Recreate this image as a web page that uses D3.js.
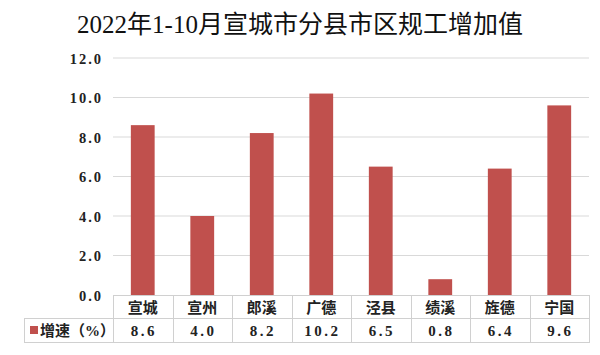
<!DOCTYPE html>
<html><head><meta charset="utf-8">
<script src="https://cdn.jsdelivr.net/npm/d3@7"></script>
<style>body{margin:0;background:#fff}svg{display:block}</style>
</head><body>
<svg id="c" width="600" height="355"></svg>
<script>
const title = "2022年1-10月宣城市分县市区规工增加值";
const categories = ["宣城","宣州","郎溪","广德","泾县","绩溪","旌德","宁国"];
const values = [8.6, 4.0, 8.2, 10.2, 6.5, 0.8, 6.4, 9.6];
const yTicks = [0, 2, 4, 6, 8, 10, 12];
const seriesName = "增速（%）";

(function () {
const svg = d3.select("#c");
const pL = 113, pR = 589, pT = 58, pB = 295;
const x = d3.scaleBand().domain(categories).range([pL, pR]).paddingInner(0.6).paddingOuter(0.3);
const xb = d3.scaleBand().domain(categories).range([pL, pR]);
const y = d3.scaleLinear().domain([0, 12]).range([pB, pT]);
const serif = "'Liberation Serif','DejaVu Serif','Noto Sans CJK SC',serif";
const cjk = "'Liberation Serif','Noto Sans CJK SC',sans-serif";

svg.append("text").attr("x", 300).attr("y", 33).attr("text-anchor", "middle")
  .attr("font-family", cjk).attr("font-size", 25).attr("fill", "#111").text(title);

svg.append("g").selectAll("line").data(yTicks.filter(d => d > 0)).join("line")
  .attr("x1", pL).attr("x2", pR).attr("y1", d => y(d)).attr("y2", d => y(d))
  .attr("stroke", "#d9d9d9").attr("stroke-width", 1);

const yAxis = d3.axisLeft(y).tickValues(yTicks).tickFormat(d3.format(".1f")).tickSize(0).tickPadding(10);
const ya = svg.append("g").attr("transform", `translate(${pL},0)`).call(yAxis);
ya.select(".domain").remove();
ya.selectAll("text").attr("font-family", serif).attr("font-size", 14.5).attr("font-weight", "bold")
  .attr("fill", "#222").attr("letter-spacing", 2).attr("dy", "0.35em");

svg.append("g").selectAll("rect").data(values).join("rect")
  .attr("x", (d, i) => x(categories[i])).attr("width", x.bandwidth())
  .attr("y", d => y(d)).attr("height", d => y(0) - y(d)).attr("fill", "#c0504d");

const rowMid = 318, tBottom = 342, tLeft = 24;
const lc = "#d0d0d0";
const tg = svg.append("g").attr("stroke", lc).attr("stroke-width", 1);
tg.append("line").attr("x1", pL).attr("x2", pR).attr("y1", pB + 0.5).attr("y2", pB + 0.5);
tg.append("line").attr("x1", tLeft).attr("x2", pR).attr("y1", rowMid + 0.5).attr("y2", rowMid + 0.5);
tg.append("line").attr("x1", tLeft).attr("x2", pR).attr("y1", tBottom + 0.5).attr("y2", tBottom + 0.5);
tg.append("line").attr("x1", tLeft + 0.5).attr("x2", tLeft + 0.5).attr("y1", rowMid).attr("y2", tBottom + 1);
tg.selectAll("line.v").data(categories.concat(["_end"])).join("line").attr("class", "v")
  .attr("x1", (d, i) => Math.round(pL + i * xb.step()) + 0.5)
  .attr("x2", (d, i) => Math.round(pL + i * xb.step()) + 0.5)
  .attr("y1", pB).attr("y2", tBottom + 1);

svg.append("g").selectAll("text").data(categories).join("text")
  .attr("x", d => xb(d) + xb.bandwidth() / 2).attr("y", (pB + rowMid) / 2 + 1)
  .attr("dy", "0.36em").attr("text-anchor", "middle")
  .attr("font-family", cjk).attr("font-size", 15).attr("font-weight", "bold").attr("fill", "#222").text(d => d);

svg.append("g").selectAll("text").data(values).join("text")
  .attr("x", (d, i) => xb(categories[i]) + xb.bandwidth() / 2 + 1).attr("y", (rowMid + tBottom) / 2 + 1)
  .attr("dy", "0.36em").attr("text-anchor", "middle")
  .attr("font-family", serif).attr("font-size", 15).attr("font-weight", "bold").attr("letter-spacing", 2.5)
  .attr("fill", "#222").text(d => d3.format(".1f")(d));

svg.append("rect").attr("x", 30).attr("y", 326).attr("width", 8).attr("height", 8).attr("fill", "#c0504d");
svg.append("text").attr("x", 40).attr("y", (rowMid + tBottom) / 2 + 1).attr("dy", "0.36em")
  .attr("font-family", cjk).attr("font-size", 15).attr("font-weight", "bold").attr("fill", "#222").text(seriesName);
})();
</script>
</body></html>
